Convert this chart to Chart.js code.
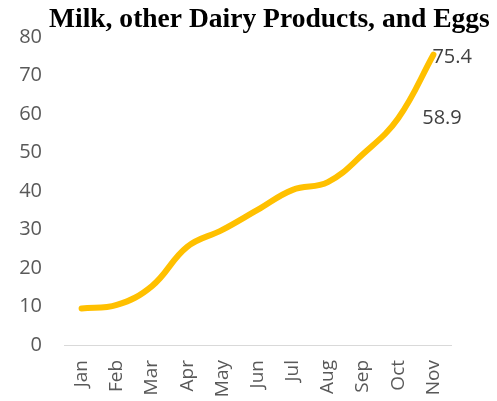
<!DOCTYPE html>
<html>
<head>
<meta charset="utf-8">
<script src="https://cdn.jsdelivr.net/npm/chart.js@4"></script>
<style>
  html, body { margin: 0; padding: 0; background: #fff; }
  #wrap { width: 497px; height: 401px; position: relative; }
</style>
</head>
<body>
<div id="wrap"><canvas id="plotHere"></canvas></div>
<script>
// chart data / グラフのデータ
let title = "Milk, other Dairy Products, and Eggs";
let months = ["Jan", "Feb", "Mar", "Apr", "May", "Jun", "Jul", "Aug", "Sep", "Oct", "Nov"];
let values = [9.5, 10.4, 15.3, 25.5, 29.9, 35.1, 40.3, 42.3, 49.6, 58.9, 75.4];
let pointLabels = ["", "", "", "", "", "", "", "", "", "58.9", "75.4"];
let yTicks = [0, 10, 20, 30, 40, 50, 60, 70, 80];

const textFont = '"Open Sans", "DejaVu Sans", sans-serif';
const titleFont = '"Liberation Serif", "DejaVu Serif", serif';

// title drawn by hand so it can sit off-centre like the original
const titlePlugin = {
  id: 'titleDraw',
  afterDraw(chart) {
    let ctx = chart.ctx;
    ctx.save();
    ctx.font = 'bold 20px ' + titleFont;
    let w = ctx.measureText(title).width;
    let size = 20 * 441 / w;
    ctx.font = 'bold ' + size + 'px ' + titleFont;
    ctx.fillStyle = '#000';
    ctx.textAlign = 'left';
    ctx.textBaseline = 'alphabetic';
    ctx.fillText(title, 49, 27);
    ctx.restore();
  }
};

// value labels for the last points
const labelPlugin = {
  id: 'valueLabels',
  afterDatasetsDraw(chart) {
    let ctx = chart.ctx;
    let pts = chart.getDatasetMeta(0).data;
    let offs = { 9: [24, 0], 10: [-1, 3] };
    ctx.save();
    ctx.font = '20px ' + textFont;
    ctx.fillStyle = '#404040';
    ctx.textAlign = 'left';
    ctx.textBaseline = 'middle';
    pointLabels.forEach(function(t, i) {
      if (!t) return;
      let o = offs[i] || [6, 0];
      ctx.fillText(t, pts[i].x + o[0], pts[i].y + o[1]);
    });
    ctx.restore();
  }
};

let plot = new Chart(document.getElementById('plotHere').getContext('2d'), {
  type: 'line',
  data: {
    labels: months,
    datasets: [{
      data: values,
      borderColor: '#FFC000',
      borderWidth: 6,
      borderCapStyle: 'round',
      pointRadius: 0,
      tension: 0.4,
      fill: false
    }]
  },
  options: {
    responsive: true,
    maintainAspectRatio: false,
    animation: false,
    layout: { padding: { top: 37, right: 46, left: 0, bottom: 0 } },
    plugins: {
      legend: { display: false },
      title: { display: false },
      tooltip: { enabled: false }
    },
    scales: {
      x: {
        offset: true,
        grid: { display: false, drawTicks: false },
        border: { display: true, color: '#d9d9d9', width: 1 },
        ticks: {
          autoSkip: false,
          minRotation: 90,
          maxRotation: 90,
          padding: 15,
          color: '#595959',
          font: { family: textFont, size: 19 }
        },
        afterFit: function(s) { s.height = 56; }
      },
      y: {
        min: 0,
        max: 80,
        grid: { display: false, drawTicks: false },
        border: { display: false },
        afterBuildTicks: function(s) { s.ticks = yTicks.map(v => ({ value: v })); },
        ticks: {
          padding: 22,
          color: '#595959',
          font: { family: textFont, size: 20 }
        },
        afterFit: function(s) { s.width = 64; }
      }
    }
  },
  plugins: [titlePlugin, labelPlugin]
});
</script>
</body>
</html>
